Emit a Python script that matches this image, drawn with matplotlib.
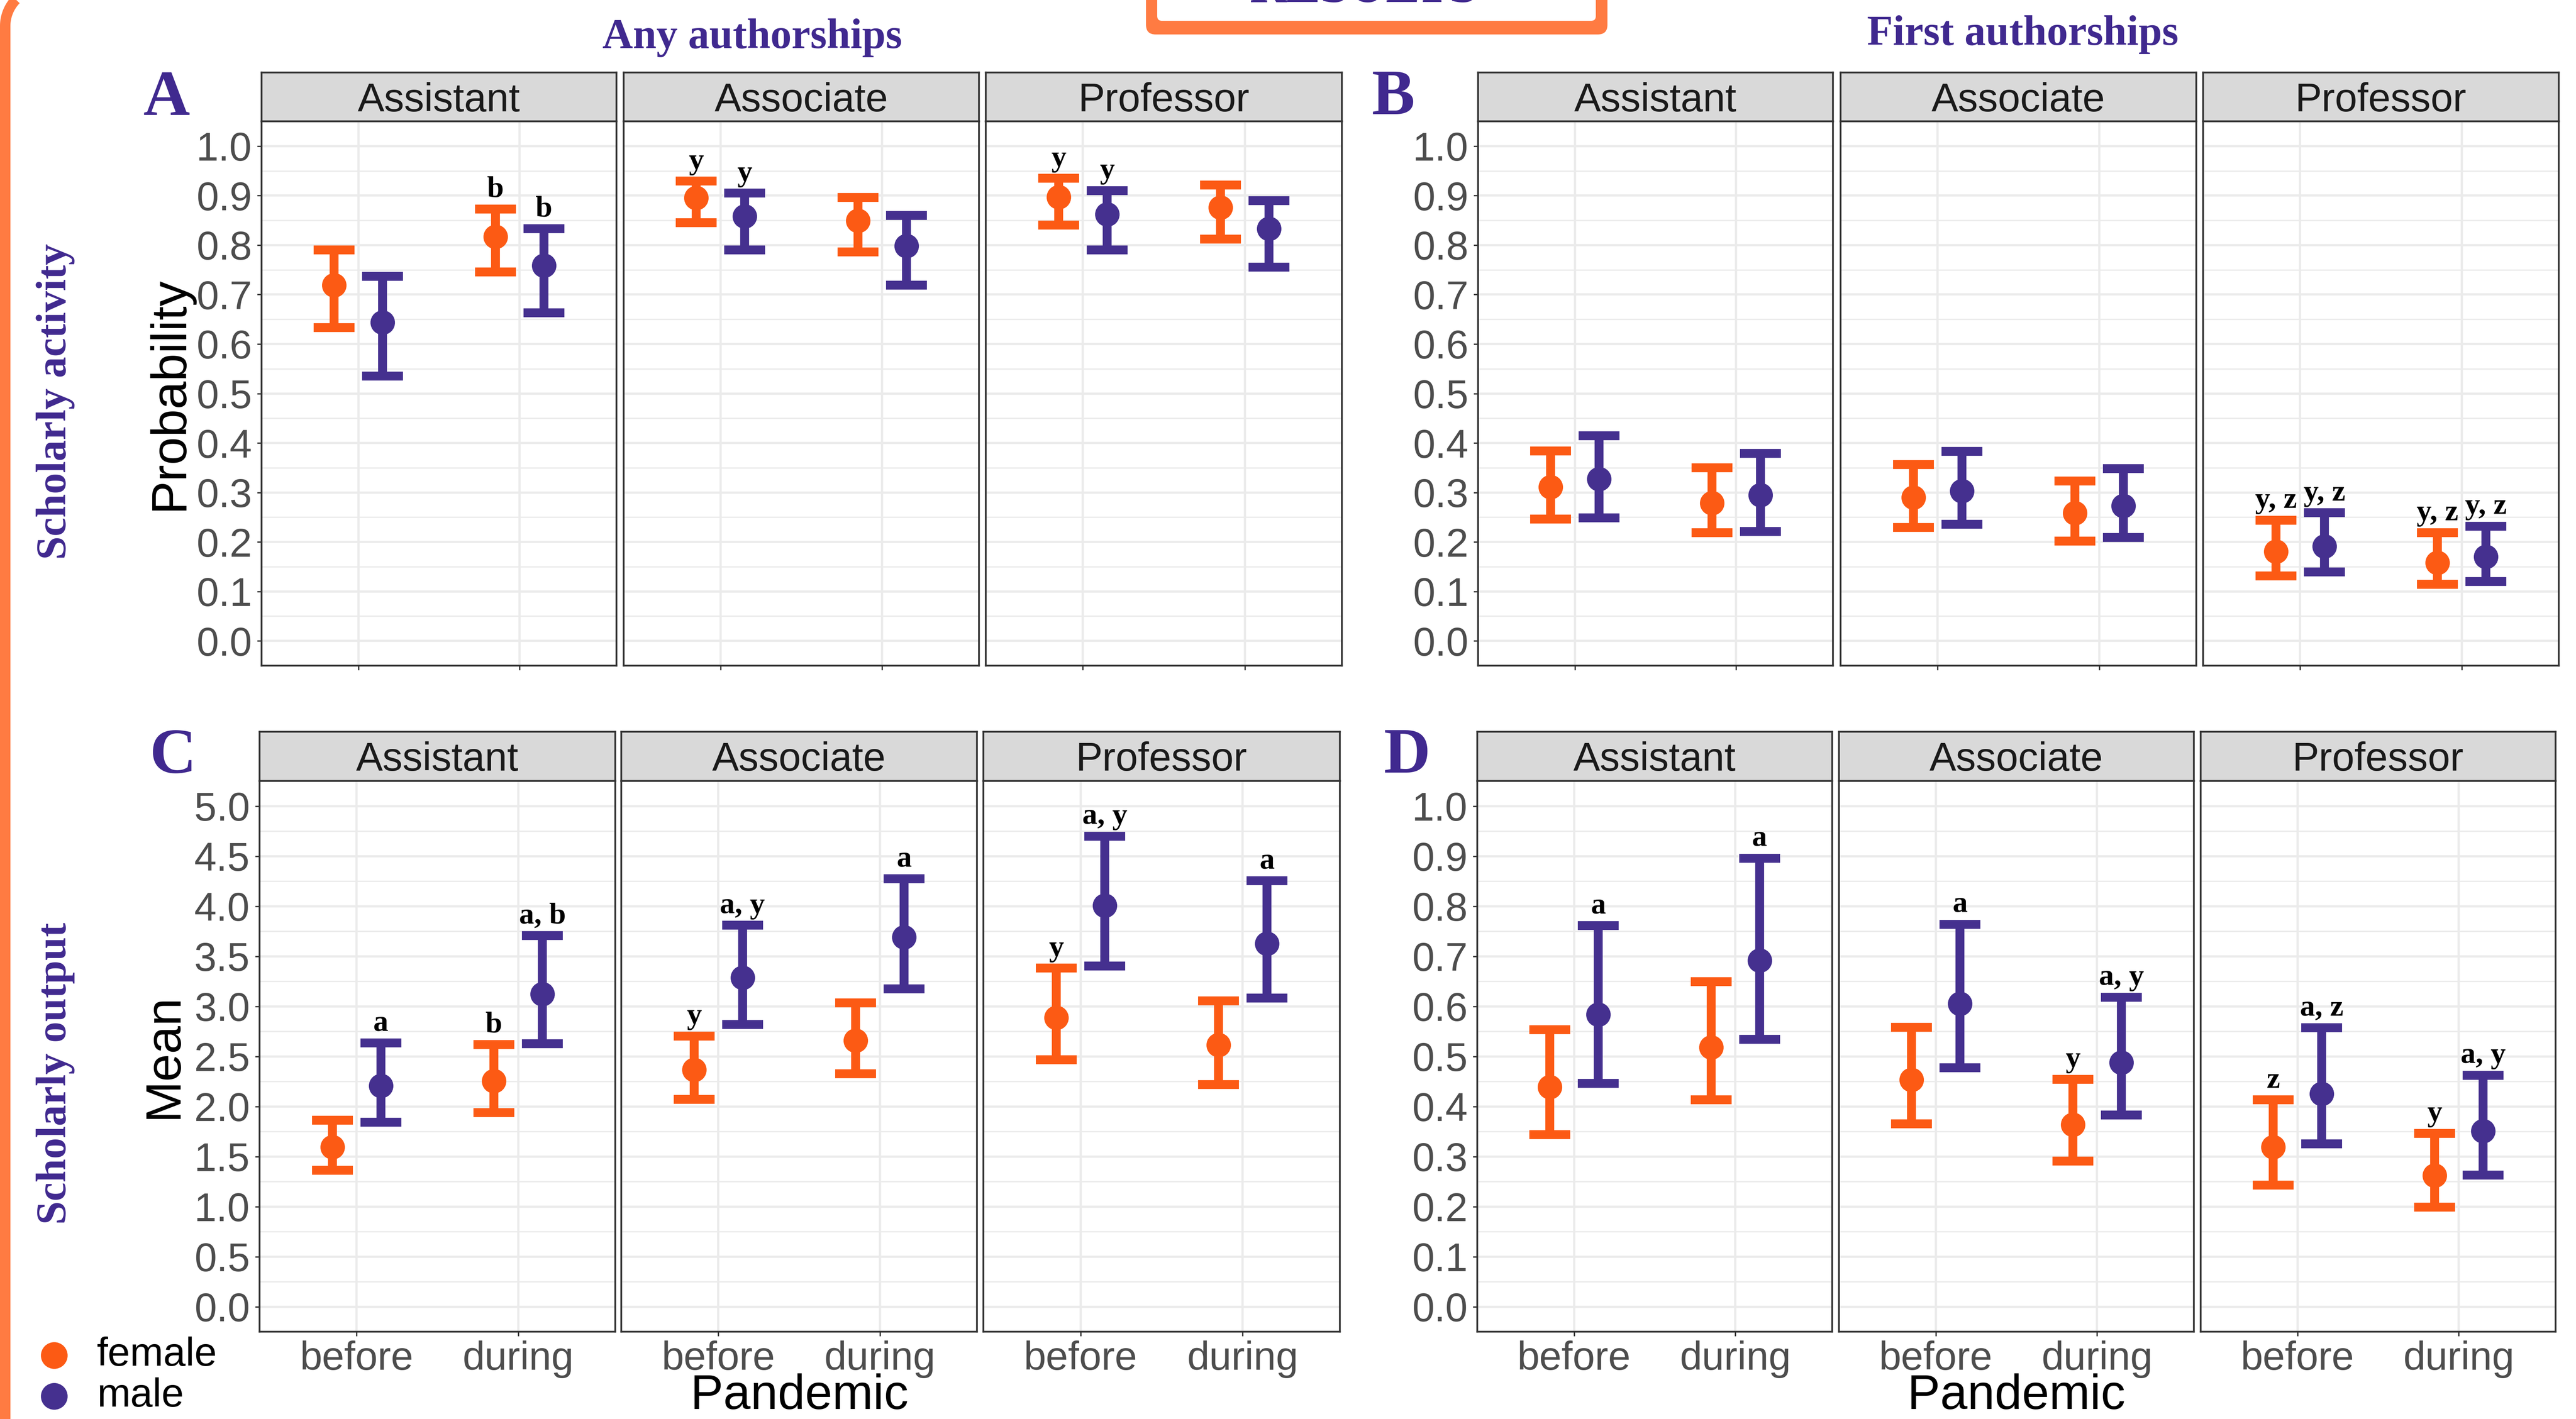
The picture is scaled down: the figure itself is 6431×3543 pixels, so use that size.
import matplotlib
matplotlib.use("Agg")
import numpy as np
import matplotlib.pyplot as plt
from matplotlib.patches import FancyBboxPatch
from matplotlib.lines import Line2D

W, H = 6432, 3543
DPI = 400

ranks = ["Assistant", "Associate", "Professor"]
periods = ["before", "during"]

# --- A: any authorships, probability of scholarly activity
a_f_mean = [[0.719, 0.817], [0.895, 0.849], [0.897, 0.876]]
a_f_lo = [[0.633, 0.746], [0.845, 0.786], [0.840, 0.812]]
a_f_hi = [[0.790, 0.873], [0.929, 0.896], [0.935, 0.921]]
a_m_mean = [[0.644, 0.759], [0.858, 0.798], [0.862, 0.833]]
a_m_lo = [[0.535, 0.663], [0.790, 0.719], [0.790, 0.755]]
a_m_hi = [[0.737, 0.833], [0.905, 0.860], [0.910, 0.890]]
a_f_lab = [["", "b"], ["y", ""], ["y", ""]]
a_m_lab = [["", "b"], ["y", ""], ["y", ""]]

# --- B: first authorships, probability
b_f_mean = [[0.311, 0.279], [0.290, 0.258], [0.181, 0.158]]
b_f_lo = [[0.246, 0.219], [0.229, 0.202], [0.131, 0.114]]
b_f_hi = [[0.384, 0.350], [0.356, 0.323], [0.244, 0.219]]
b_m_mean = [[0.327, 0.295], [0.303, 0.273], [0.191, 0.170]]
b_m_lo = [[0.249, 0.221], [0.236, 0.209], [0.139, 0.120]]
b_m_hi = [[0.415, 0.379], [0.383, 0.348], [0.259, 0.232]]
b_f_lab = [["", ""], ["", ""], ["y, z", "y, z"]]
b_m_lab = [["", ""], ["", ""], ["y, z", "y, z"]]

# --- C: any authorships, mean output
c_f_mean = [[1.593, 2.255], [2.366, 2.657], [2.887, 2.615]]
c_f_lo = [[1.363, 1.937], [2.071, 2.328], [2.466, 2.217]]
c_f_hi = [[1.861, 2.619], [2.703, 3.036], [3.381, 3.055]]
c_m_mean = [[2.205, 3.124], [3.285, 3.691], [4.005, 3.626]]
c_m_lo = [[1.842, 2.626], [2.818, 3.174], [3.404, 3.082]]
c_m_hi = [[2.634, 3.706], [3.809, 4.273], [4.698, 4.253]]
c_f_lab = [["", "b"], ["y", ""], ["y", ""]]
c_m_lab = [["a", "a, b"], ["a, y", "a"], ["a, y", "a"]]

# --- D: first authorships, mean output
d_f_mean = [[0.439, 0.518], [0.453, 0.364], [0.319, 0.262]]
d_f_lo = [[0.344, 0.413], [0.365, 0.291], [0.243, 0.199]]
d_f_hi = [[0.553, 0.649], [0.558, 0.454], [0.413, 0.346]]
d_m_mean = [[0.584, 0.692], [0.605, 0.488], [0.425, 0.351]]
d_m_lo = [[0.446, 0.534], [0.477, 0.383], [0.325, 0.263]]
d_m_hi = [[0.761, 0.896], [0.764, 0.618], [0.557, 0.462]]
d_f_lab = [["", ""], ["", "y"], ["z", "y"]]
d_m_lab = [["a", "a"], ["a", "a, y"], ["a, z", "a, y"]]

FEMALE = "#FC5A14"
MALE = "#45308F"
PURPLE = "#40298F"
FRAME = "#FF7B42"
GRID = "#EBEBEB"
DARK = "#333333"

plt.rcParams["font.family"] = ["Liberation Sans", "DejaVu Sans"]

fig = plt.figure(figsize=(W / DPI, H / DPI), dpi=DPI)
fig.patch.set_facecolor("white")


def fx(px):
    return px / W


def fy(py):
    return 1 - py / H


def box(x0, x1, top, bottom):
    return [x0 / W, 1 - bottom / H, (x1 - x0) / W, (bottom - top) / H]


def draw_panel(cols, top, strip_bot, bottom, ylim, yticks, yminor, fmt,
               f_mean, f_lo, f_hi, m_mean, m_lo, m_hi, f_lab, m_lab, show_x):
    for i, (x0, x1) in enumerate(cols):
        # strip
        sax = fig.add_axes(box(x0, x1, top, strip_bot))
        sax.set_facecolor("#D9D9D9")
        sax.set_xticks([])
        sax.set_yticks([])
        for s in sax.spines.values():
            s.set_color(DARK)
            s.set_linewidth(0.8)
        sax.text(0.5, 0.42, ranks[i], ha="center", va="center", fontsize=18,
                 color="#1A1A1A", transform=sax.transAxes)

        ax = fig.add_axes(box(x0, x1, strip_bot, bottom))
        ax.set_xlim(0.4, 2.6)
        ax.set_ylim(*ylim)
        ax.set_axisbelow(True)
        ax.set_xticks([1, 2])
        ax.set_yticks(yticks)
        ax.set_yticks(yminor, minor=True)
        ax.grid(True, which="major", axis="both", color=GRID, lw=1.0)
        ax.grid(True, which="minor", axis="y", color=GRID, lw=0.6)
        for s in ax.spines.values():
            s.set_color(DARK)
            s.set_linewidth(0.8)
        ax.tick_params(which="minor", length=0)
        ax.tick_params(which="major", length=1.9, width=0.6, color=DARK,
                       labelcolor="#4D4D4D", labelsize=18)
        ax.tick_params(axis="y", pad=2.5)
        ax.tick_params(axis="x", pad=2)
        if i == 0:
            ax.set_yticklabels([fmt.format(v) for v in yticks])
        else:
            ax.tick_params(axis="y", which="major", length=0, labelleft=False)
        if show_x:
            ax.set_xticklabels(periods)
        else:
            ax.tick_params(axis="x", labelbottom=False)

        for j in range(2):
            for off, mean, lo, hi, lab, col in (
                    (-0.15, f_mean, f_lo, f_hi, f_lab, FEMALE),
                    (0.15, m_mean, m_lo, m_hi, m_lab, MALE)):
                xv = j + 1 + off
                mv = mean[i][j]
                ax.errorbar([xv], [mv], yerr=[[mv - lo[i][j]], [hi[i][j] - mv]],
                            fmt="o", color=col, ms=10, elinewidth=4,
                            capsize=9.2, capthick=4, zorder=3)
                if lab[i][j]:
                    ax.annotate(lab[i][j], xy=(xv, hi[i][j]), xytext=(0, 5.5),
                                textcoords="offset points", ha="center",
                                va="baseline", fontsize=13.5, fontweight="bold",
                                family="Liberation Serif", color="black")


prob_ticks = [round(0.1 * k, 1) for k in range(11)]
prob_minor = [round(0.05 + 0.1 * k, 2) for k in range(10)]
mean_ticks = [round(0.5 * k, 1) for k in range(11)]
mean_minor = [round(0.25 + 0.5 * k, 2) for k in range(10)]

draw_panel([(653, 1539), (1557, 2444), (2461, 3350)], 181, 303, 1662,
           (-0.05, 1.05), prob_ticks, prob_minor, "{:.1f}",
           a_f_mean, a_f_lo, a_f_hi, a_m_mean, a_m_lo, a_m_hi, a_f_lab, a_m_lab, False)
draw_panel([(3690, 4576), (4595, 5483), (5500, 6388)], 181, 303, 1662,
           (-0.05, 1.05), prob_ticks, prob_minor, "{:.1f}",
           b_f_mean, b_f_lo, b_f_hi, b_m_mean, b_m_lo, b_m_hi, b_f_lab, b_m_lab, False)
draw_panel([(648, 1536), (1551, 2439), (2455, 3345)], 1827, 1950, 3325,
           (-0.25, 5.25), mean_ticks, mean_minor, "{:.1f}",
           c_f_mean, c_f_lo, c_f_hi, c_m_mean, c_m_lo, c_m_hi, c_f_lab, c_m_lab, True)
draw_panel([(3688, 4574), (4591, 5477), (5494, 6380)], 1827, 1950, 3325,
           (-0.05, 1.05), prob_ticks, prob_minor, "{:.1f}",
           d_f_mean, d_f_lo, d_f_hi, d_m_mean, d_m_lo, d_m_hi, d_f_lab, d_m_lab, True)

# axis titles
fig.text(fx(424), fy(982), "Probability", rotation=90, ha="center", va="center",
         fontsize=22.5, color="black")
fig.text(fx(410), fy(2637), "Mean", rotation=90, ha="center", va="center",
         fontsize=22.5, color="black")
fig.text(fx(1996), 0.0, "Pandemic", ha="center", va="bottom",
         fontsize=22, color="black")
fig.text(fx(5034), 0.0, "Pandemic", ha="center", va="bottom",
         fontsize=22, color="black")

# titles and panel letters
serif = dict(family="Liberation Serif", fontweight="bold", color=PURPLE)
fig.text(fx(1878), fy(120), "Any authorships", ha="center", va="baseline",
         fontsize=19, **serif)
fig.text(fx(5050), fy(112), "First authorships", ha="center", va="baseline",
         fontsize=19, **serif)
fig.text(fx(139), fy(1003), "Scholarly activity", rotation=90, ha="center",
         va="center", fontsize=19, **serif)
fig.text(fx(139), fy(2680), "Scholarly output", rotation=90, ha="center",
         va="center", fontsize=19, **serif)
for letter, px, py in (("A", 416, 287), ("B", 3478, 285),
                       ("C", 431, 1929), ("D", 3512, 1929)):
    fig.text(fx(px), fy(py), letter, ha="center", va="baseline",
             fontsize=29, **serif)

# legend
for col, lab, py in ((FEMALE, "female", 3384), (MALE, "male", 3486)):
    fig.add_artist(Line2D([fx(135)], [fy(py)], transform=fig.transFigure,
                          marker="o", ms=11, color=col, ls="none"))
    fig.text(fx(242), fy(py), lab, ha="left", va="center", fontsize=18,
             color="black")

# decorative frame on the left (vertical edge + rounded top corner, in pixels)
inch = fig.dpi_scale_trans
r = 95.0
cx, cy = 13 + r, H - 65.0
ang = np.linspace(np.pi, np.pi / 2, 60)
frame_x = np.concatenate([[13, 13], cx + r * np.cos(ang), [cx + 400]]) / DPI
frame_y = np.concatenate([[-50, cy], cy + r * np.sin(ang), [cy + r]]) / DPI
fig.add_artist(Line2D(frame_x, frame_y, transform=inch, color=FRAME,
                      lw=26 / DPI * 72, solid_capstyle="butt",
                      solid_joinstyle="round"))

# cut-off "RESULTS" box at the top
shadow = FancyBboxPatch((2861 / DPI, (H - 86) / DPI), 1152 / DPI, 1.0,
                        boxstyle="round,pad=0,rounding_size=0.06",
                        transform=inch, facecolor=FRAME, edgecolor="none",
                        clip_on=False)
fig.add_artist(shadow)
inner = FancyBboxPatch((2889 / DPI, (H - 52) / DPI), 1095 / DPI, 1.0,
                       boxstyle="round,pad=0,rounding_size=0.03",
                       transform=inch, facecolor="white", edgecolor="none",
                       clip_on=False)
fig.add_artist(inner)
fig.text(fx(3405), fy(5), "RESULTS", ha="center", va="baseline", fontsize=23,
         **serif)

fig.savefig("out.png", dpi=DPI, facecolor="white")
